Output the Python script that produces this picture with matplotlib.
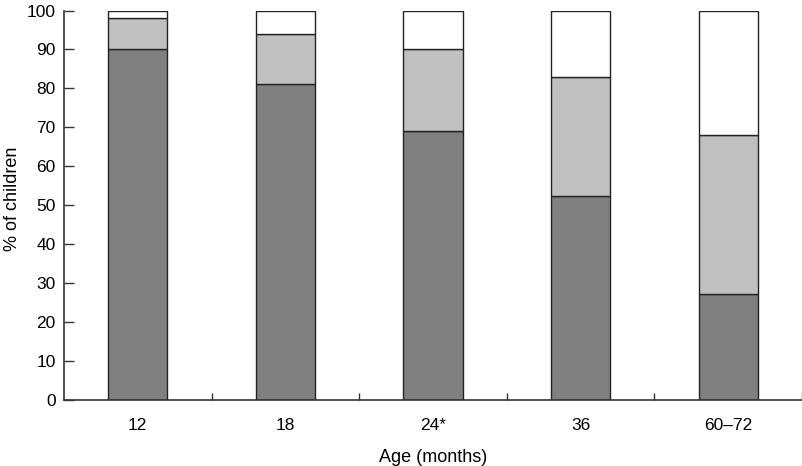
import matplotlib
matplotlib.use("Agg")
import matplotlib.pyplot as plt
import numpy as np

plt.rcParams['font.family'] = ['Liberation Sans', 'DejaVu Sans']

categories = ["12", "18", "24*", "36", "60\u201372"]
dark = [90, 81, 69, 52.3, 27]
light = [8, 13, 21, 30.7, 41]
white = [2, 6, 10, 17, 32]

fig = plt.figure(figsize=(8.03, 4.66), dpi=100)
ax = fig.add_axes([64/803, 66.5/466, 738/803, 389/466])

x = np.arange(len(categories))
w = 0.4
ec = '#222222'
lw = 1.0
ax.bar(x, dark, w, color='#808080', edgecolor=ec, linewidth=lw)
ax.bar(x, light, w, bottom=dark, color='#c0c0c0', edgecolor=ec, linewidth=lw)
b2 = np.array(dark) + np.array(light)
ax.bar(x, white, w, bottom=b2, color='white', edgecolor=ec, linewidth=lw)

ax.set_xlim(-0.5, len(categories) - 0.5)
ax.set_ylim(0, 100)
ax.set_yticks(np.arange(0, 101, 10))
ax.set_xticks(x)
ax.set_xticklabels(categories, fontsize=12.5)
ax.set_xticks(np.arange(0.5, len(categories), 1), minor=True)
ax.tick_params(axis='x', which='major', length=0, pad=13)
ax.tick_params(axis='x', which='minor', direction='in', length=5, width=1, color='#333333')
ax.tick_params(axis='y', direction='in', length=7, width=1, labelsize=12.5, color='#333333', pad=6)

for s in ['top', 'right']:
    ax.spines[s].set_visible(False)
for s in ['left', 'bottom']:
    ax.spines[s].set_color('#333333')
    ax.spines[s].set_linewidth(1.2)

ax.set_xlabel("Age (months)", fontsize=13, labelpad=12)
ax.set_ylabel("% of children", fontsize=13)
ax.yaxis.set_label_coords(-43/738, 0.517)

fig.savefig("out.png", dpi=100)
